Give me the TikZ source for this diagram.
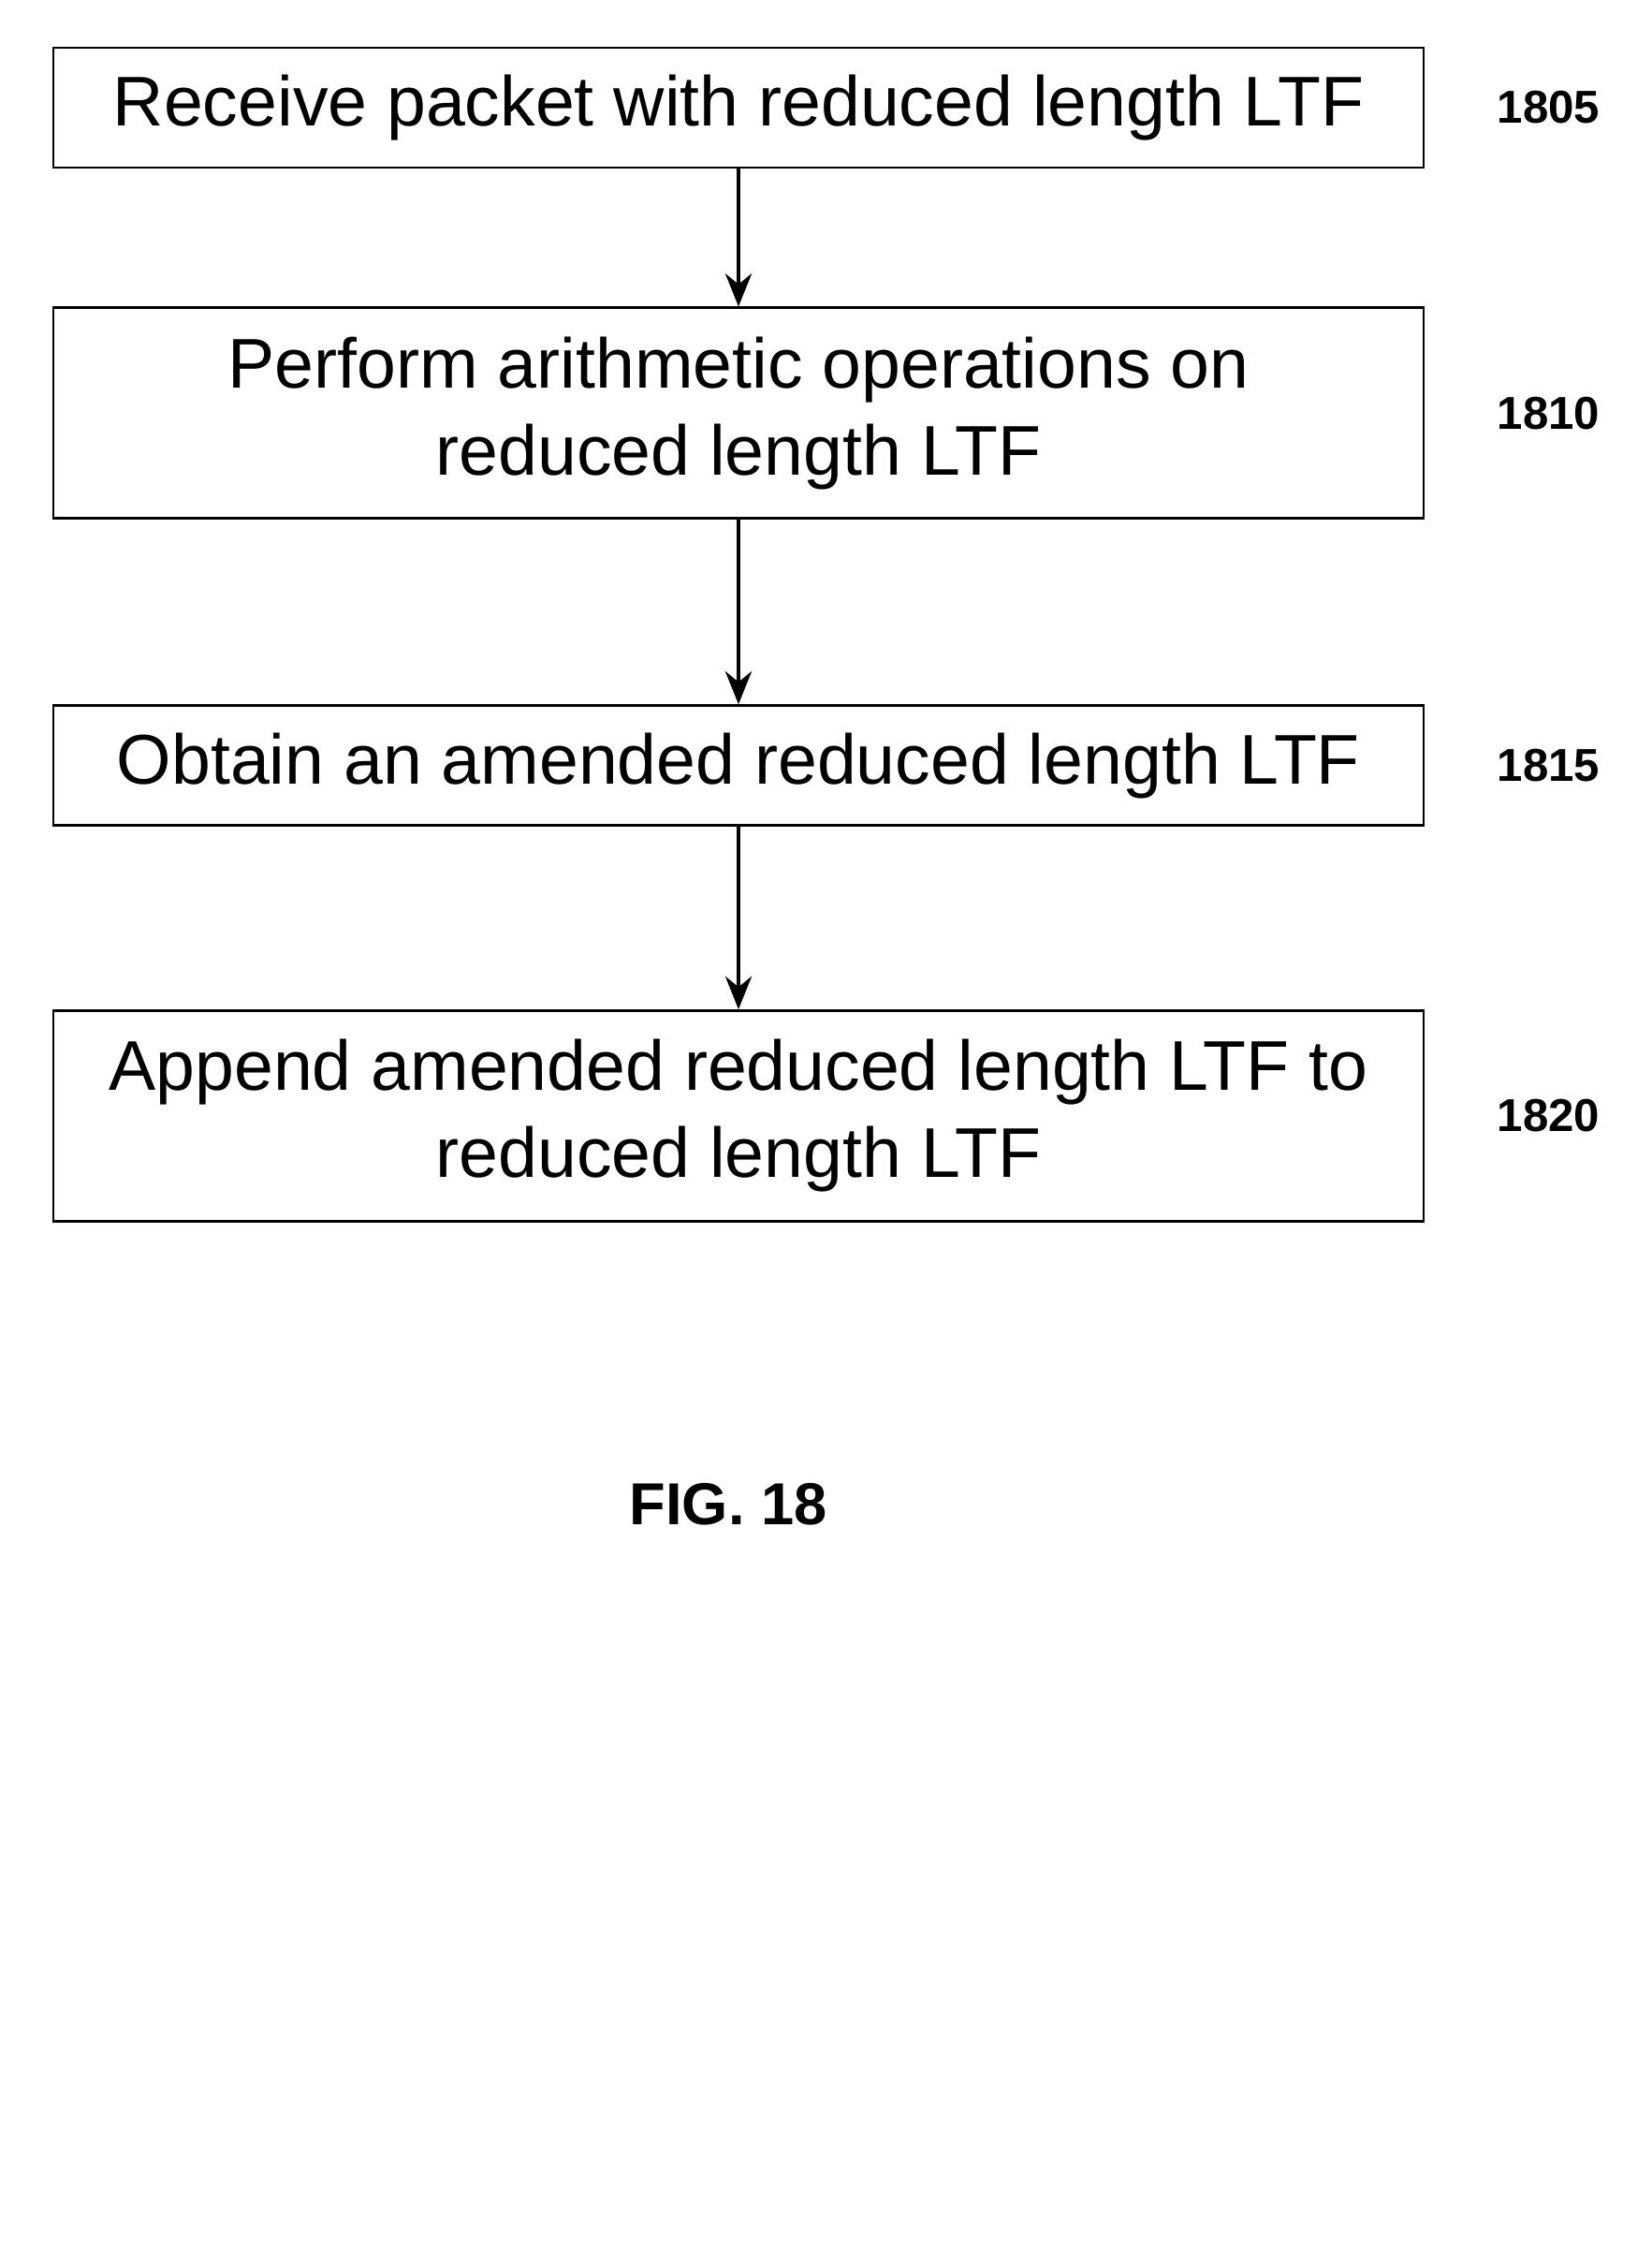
\documentclass[tikz,border=0pt]{standalone}
\usepackage{fontspec}
\setmainfont{Liberation Sans}
\usetikzlibrary{positioning,arrows.meta}

\begin{document}
\begin{tikzpicture}[
    stepbox/.style={draw=black, line width=0.8pt, minimum width=14.64cm, align=center,
        font=\fontsize{21.4}{26.5}\selectfont, inner sep=0pt},
    shortbox/.style={stepbox, minimum height=1.28cm},
    tallbox/.style={stepbox, minimum height=2.25cm},
    ref/.style={font=\fontsize{14}{16}\selectfont\bfseries},
    flow/.style={-{Stealth[length=10pt,width=8pt]}, line width=1.2pt}
]
\useasboundingbox (0,0) rectangle (17.64,-24);

% Steps
\node[shortbox] (receive) at (7.89,-1.15) {Receive packet with reduced length LTF};
\node[tallbox, below=1.47cm of receive] (arith) {Perform arithmetic operations on\\reduced length LTF};
\node[shortbox, below=1.97cm of arith] (amend) {Obtain an amended reduced length LTF};
\node[tallbox, below=1.95cm of amend] (append) {Append amended reduced length LTF to\\reduced length LTF};

% Reference numerals
\node[ref, right=0.65cm of receive.east, anchor=west] {1805};
\node[ref, right=0.65cm of arith.east, anchor=west] {1810};
\node[ref, right=0.65cm of amend.east, anchor=west] {1815};
\node[ref, right=0.65cm of append.east, anchor=west] {1820};

% Arrows
\draw[flow] (receive) -- (arith);
\draw[flow] (arith) -- (amend);
\draw[flow] (amend) -- (append);

% Caption
\node[font=\fontsize{18}{20}\selectfont\bfseries] (fig) at (7.78,-16.07) {FIG. 18};

\end{tikzpicture}
\end{document}
